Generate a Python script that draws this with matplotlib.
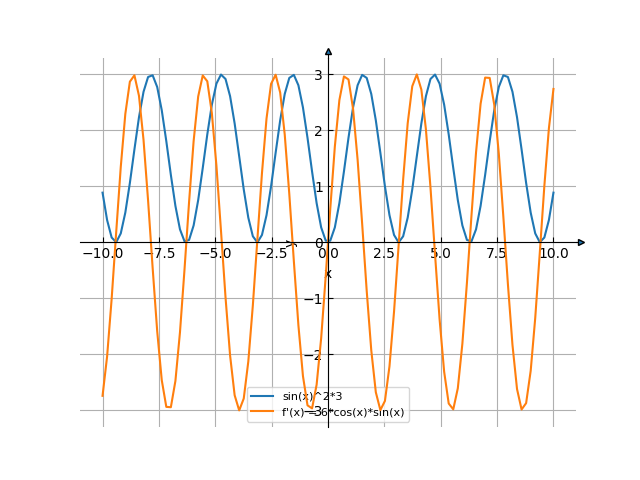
import matplotlib
matplotlib.use('Agg')
import matplotlib.pyplot as plt

# valores (100 pontos entre -10 e 10)
x_vals = [
    -10.000, -9.798, -9.596, -9.394, -9.192, -8.990, -8.788, -8.586, -8.384, -8.182,
    -7.980, -7.778, -7.576, -7.374, -7.172, -6.970, -6.768, -6.566, -6.364, -6.162,
    -5.960, -5.758, -5.556, -5.354, -5.152, -4.949, -4.747, -4.545, -4.343, -4.141,
    -3.939, -3.737, -3.535, -3.333, -3.131, -2.929, -2.727, -2.525, -2.323, -2.121,
    -1.919, -1.717, -1.515, -1.313, -1.111, -0.909, -0.707, -0.505, -0.303, -0.101,
    0.101, 0.303, 0.505, 0.707, 0.909, 1.111, 1.313, 1.515, 1.717, 1.919,
    2.121, 2.323, 2.525, 2.727, 2.929, 3.131, 3.333, 3.535, 3.737, 3.939,
    4.141, 4.343, 4.545, 4.747, 4.949, 5.152, 5.354, 5.556, 5.758, 5.960,
    6.162, 6.364, 6.566, 6.768, 6.970, 7.172, 7.374, 7.576, 7.778, 7.980,
    8.182, 8.384, 8.586, 8.788, 8.990, 9.192, 9.394, 9.596, 9.798, 10.000,
]

f_vals = [
    0.888, 0.399, 0.087, 0.003, 0.160, 0.532, 1.061, 1.660, 2.234, 2.689,
    2.953, 2.983, 2.774, 2.360, 1.807, 1.205, 0.651, 0.233, 0.019, 0.044,
    0.303, 0.755, 1.327, 1.927, 2.458, 2.834, 2.996, 2.917, 2.610, 2.124,
    1.537, 0.945, 0.442, 0.109, 0.000, 0.133, 0.486, 1.002, 1.599, 2.179,
    2.650, 2.936, 2.991, 2.805, 2.409, 1.867, 1.266, 0.702, 0.267, 0.031,
    0.031, 0.267, 0.702, 1.266, 1.867, 2.409, 2.805, 2.991, 2.936, 2.650,
    2.179, 1.599, 1.002, 0.486, 0.133, 0.000, 0.109, 0.442, 0.945, 1.537,
    2.124, 2.610, 2.917, 2.996, 2.834, 2.458, 1.927, 1.327, 0.755, 0.303,
    0.044, 0.019, 0.233, 0.651, 1.205, 1.807, 2.360, 2.774, 2.983, 2.953,
    2.689, 2.234, 1.660, 1.061, 0.532, 0.160, 0.003, 0.087, 0.399, 0.888,
]

df_vals = [
    -2.739, -2.037, -1.007, 0.185, 1.347, 2.293, 2.869, 2.983, 2.617, 1.829,
    0.747, -0.455, -1.585, -2.458, -2.936, -2.942, -2.473, -1.606, -0.481, 0.722,
    1.809, 2.604, 2.980, 2.876, 2.309, 1.370, 0.210, -0.983, -2.018, -2.728,
    -2.999, -2.787, -2.126, -1.122, 0.062, 1.236, 2.211, 2.830, 2.993, 2.675,
    1.925, 0.866, -0.333, -1.478, -2.386, -2.909, -2.963, -2.541, -1.709, -0.602,
    0.602, 1.709, 2.541, 2.963, 2.909, 2.386, 1.478, 0.333, -0.866, -1.925,
    -2.675, -2.993, -2.830, -2.211, -1.236, -0.062, 1.122, 2.126, 2.787, 2.999,
    2.728, 2.018, 0.983, -0.210, -1.370, -2.309, -2.876, -2.980, -2.604, -1.809,
    -0.722, 0.481, 1.606, 2.473, 2.942, 2.936, 2.458, 1.585, 0.455, -0.747,
    -1.829, -2.617, -2.983, -2.869, -2.293, -1.347, -0.185, 1.007, 2.037, 2.739,
]

fig, ax = plt.subplots(figsize=(6.4, 4.8), dpi=100)

ax.plot(x_vals, f_vals, label='sin(x)^2*3')
ax.plot(x_vals, df_vals, label="f'(x) = 6*cos(x)*sin(x)")

# eixos no centro
ax.spines['left'].set_position('zero')
ax.spines['bottom'].set_position('zero')
ax.spines['right'].set_visible(False)
ax.spines['top'].set_visible(False)
ax.tick_params(direction='in')

# grade desenhada por baixo da legenda (a legenda fica sob curvas e rótulos)
xl = ax.get_xlim()
yl = ax.get_ylim()
for t in ax.get_xticks():
    if xl[0] <= t <= xl[1]:
        ax.axvline(t, color='#b0b0b0', lw=0.8, zorder=0.1)
for t in ax.get_yticks():
    if yl[0] <= t <= yl[1]:
        ax.axhline(t, color='#b0b0b0', lw=0.8, zorder=0.1)
ax.set_xlim(xl)
ax.set_ylim(yl)

# prolonga os eixos e põe as setas nas pontas
ax.plot([1.0, 1.01], [0, 0], color='k', lw=0.8,
        transform=ax.get_yaxis_transform(), clip_on=False)
ax.plot([0, 0], [1.0, 1.017], color='k', lw=0.8,
        transform=ax.get_xaxis_transform(), clip_on=False)
ax.plot(1.01, 0, '>', color='C0', markeredgecolor='k', markersize=5,
        transform=ax.get_yaxis_transform(), clip_on=False)
ax.plot(0, 1.017, '^', color='C0', markeredgecolor='k', markersize=5,
        transform=ax.get_xaxis_transform(), clip_on=False)

ax.set_xlabel('x')
ax.set_ylabel('y')
leg = ax.legend(loc='lower center', fontsize=8)
leg.set_zorder(0.5)

plt.savefig('out.png', dpi=100)
